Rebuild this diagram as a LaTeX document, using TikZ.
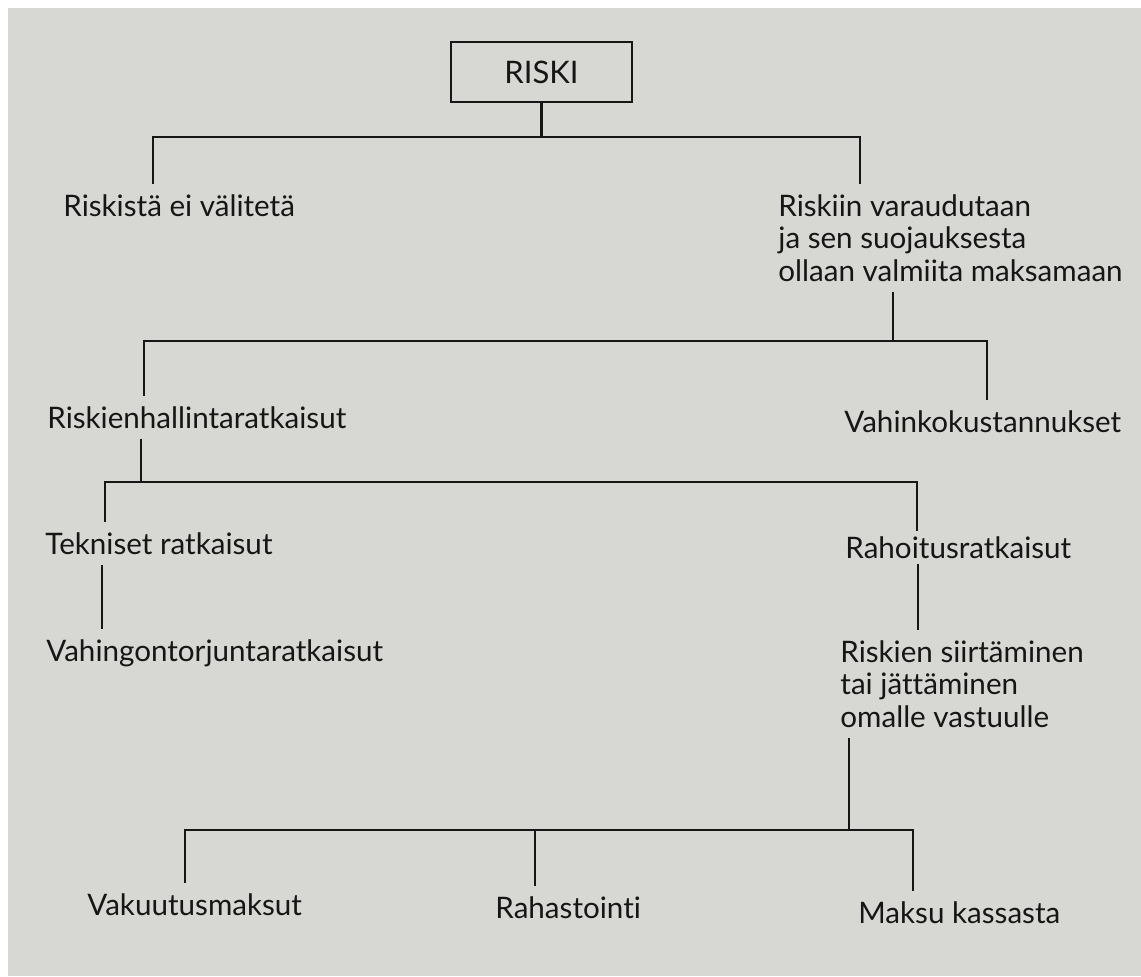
\documentclass[tikz,border=0pt]{standalone}
\usepackage{fontspec}
\setmainfont{Lato}[Ligatures=NoCommon]
\usepackage{xcolor}
\usepackage{tikz}
\usetikzlibrary{positioning,calc}
\definecolor{paper}{RGB}{215,215,211}
\definecolor{ink}{RGB}{22,22,22}
\tikzset{
  lbl/.style={inner xsep=0pt, inner ysep=5pt, anchor=base west, text=ink, font=\fontsize{14.8}{16.1}\selectfont},
  lblm/.style={lbl, align=left},
  topbox/.style={draw=ink, line width=1.1pt, minimum width=90.5pt, minimum height=30pt, inner sep=0pt, text=ink, font=\fontsize{15.5}{17}\selectfont},
  link/.style={draw=ink, line width=1.1pt}
}

\begin{document}
\begin{tikzpicture}[x=0.5pt, y=-0.5pt]
  \fill[white] (0,0) rectangle (1141,976);
  \fill[paper] (8,8) rectangle (1141,976);
  \useasboundingbox (0,0) rectangle (1141,976);

  % labels (multi-line ones sit on their last line)
  \node[topbox] (riski) at (541.5,72) {RISKI};
  \node[lbl] (eivalit) at (63,216) {Riskistä ei välitetä};
  \node[lblm] (varaud) at (778,281) {Riskiin varaudutaan\\ja sen suojauksesta\\ollaan valmiita maksamaan};
  \node[lbl] (hallinta) at (47,428) {Riskienhallintaratkaisut};
  \node[lbl] (vahinko) at (844,432) {Vahinkokustannukset};
  \node[lbl] (tekn) at (45,554) {Tekniset ratkaisut};
  \node[lbl, inner ysep=2.5pt] (rahoit) at (845,558) {Rahoitusratkaisut};
  \node[lbl] (vahing) at (46,661) {Vahingontorjuntaratkaisut};
  \node[lblm] (siirto) at (840,727) {Riskien siirtäminen\\tai jättäminen\\omalle vastuulle};
  \node[lbl] (vakuut) at (87,915) {Vakuutusmaksut};
  \node[lbl] (rahast) at (495,918) {Rahastointi};
  \node[lbl] (kassa) at (858,923) {Maksu kassasta};

  % bars
  \coordinate (b1l) at (153,137);
  \coordinate (b1r) at (860,137);
  \coordinate (j2) at (893,341);
  \coordinate (b2l) at (144,341);
  \coordinate (b2r) at (987,341);
  \coordinate (j3) at (141,482);
  \coordinate (b3l) at (105,482);
  \coordinate (b3r) at (917,482);
  \coordinate (k1) at (102,600);
  \coordinate (k2) at (918,600);
  \coordinate (j4) at (849,830);
  \coordinate (b4l) at (185,830);
  \coordinate (b4m) at (535,830);
  \coordinate (b4r) at (913,830);

  \draw[link] (riski) -- (riski |- b1l);
  \draw[link] (eivalit.north -| b1l) -- (b1l) -- (b1r) -- (varaud.north -| b1r);

  \draw[link] (varaud.south -| j2) -- (j2);
  \draw[link] (hallinta.north -| b2l) -- (b2l) -- (b2r) -- (vahinko.north -| b2r);

  \draw[link] (hallinta.south -| j3) -- (j3);
  \draw[link] (tekn.north -| b3l) -- (b3l) -- (b3r) -- (rahoit.north -| b3r);

  \draw[link] (tekn.south -| k1) -- (vahing.north -| k1);
  \draw[link] (rahoit.south -| k2) -- (siirto.north -| k2);

  \draw[link] (siirto.south -| j4) -- (j4);
  \draw[link] (vakuut.north -| b4l) -- (b4l) -- (b4r) -- (kassa.north -| b4r);
  \draw[link] (b4m) -- (rahast.north -| b4m);
\end{tikzpicture}
\end{document}
